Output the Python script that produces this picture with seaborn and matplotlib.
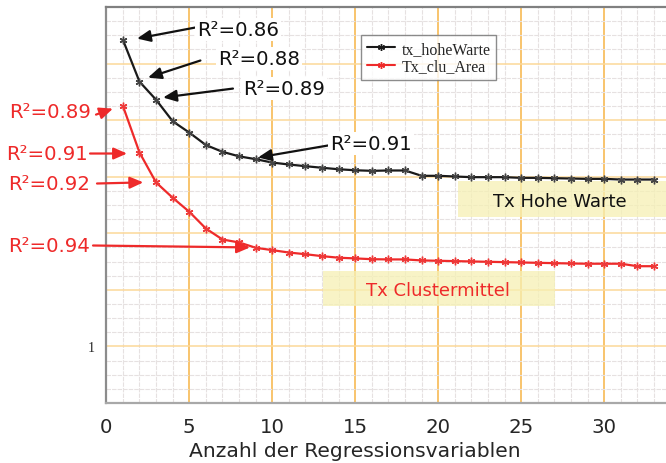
import numpy as np
import pandas as pd
import matplotlib
matplotlib.use("Agg")
import matplotlib.pyplot as plt
from matplotlib.patches import Rectangle
from matplotlib.ticker import MultipleLocator, FuncFormatter
from matplotlib.lines import Line2D
import seaborn as sns

# ---- data ----
n_vars = list(range(1, 34))
tx_hohe_warte = [3.71, 3.34, 3.18, 2.99, 2.89, 2.78, 2.72, 2.68, 2.655, 2.625,
                 2.608, 2.593, 2.579, 2.566, 2.557, 2.552, 2.555, 2.555, 2.508, 2.508,
                 2.502, 2.496, 2.496, 2.496, 2.490, 2.490, 2.487, 2.484, 2.481, 2.481,
                 2.475, 2.475, 2.475]
tx_clu_area = [3.126, 2.714, 2.449, 2.314, 2.190, 2.042, 1.945, 1.919, 1.872, 1.851,
               1.830, 1.815, 1.798, 1.784, 1.778, 1.771, 1.769, 1.769, 1.760, 1.757,
               1.754, 1.751, 1.748, 1.745, 1.742, 1.739, 1.736, 1.733, 1.731, 1.731,
               1.731, 1.709, 1.709]
series_names = ["tx_hoheWarte", "Tx_clu_Area"]
series_colors = ["#1a1a1a", "#ee2a2a"]

# annotation labels: (text, text_x, text_y, tail_x, tail_y, head_x, head_y)
black_notes = [
    ("R²=0.86", 5.46, 3.80, 5.34, 3.818, 1.85, 3.721),
    ("R²=0.88", 6.73, 3.544, 5.67, 3.527, 2.51, 3.376),
    ("R²=0.89", 8.23, 3.279, 7.63, 3.279, 3.42, 3.200),
    ("R²=0.91", 13.47, 2.793, 13.36, 2.776, 9.14, 2.670),
]
red_notes = [
    ("R²=0.89", -0.95, 3.075, -0.62, 3.049, 0.40, 3.102),
    ("R²=0.91", -1.10, 2.705, -0.98, 2.705, 1.25, 2.705),
    ("R²=0.92", -0.98, 2.44, -0.56, 2.44, 2.23, 2.45),
    ("R²=0.94", -0.98, 1.892, -0.80, 1.892, 8.66, 1.875),
]

df = pd.DataFrame({
    "x": n_vars * 2,
    "y": tx_hohe_warte + tx_clu_area,
    "series": [series_names[0]] * len(n_vars) + [series_names[1]] * len(n_vars),
})

sns.set_style("white")
plt.rcParams["font.family"] = ["DejaVu Sans"]

fig = plt.figure(figsize=(6.66, 4.64), dpi=100)
ax = fig.add_axes([106.3 / 666, 60 / 464, (666 - 106.3) / 666, 396 / 464])

sns.lineplot(data=df, x="x", y="y", hue="series", style="series",
             palette=dict(zip(series_names, series_colors)),
             markers=[(6, 2, 0), (6, 2, 0)], dashes=False,
             markersize=5.5, markeredgewidth=1.0, linewidth=1.6,
             ax=ax, legend=False, zorder=5)
marker_cols = ["#444444", "#ee3a3a"]
for line, c in zip(ax.lines, marker_cols):
    line.set_markeredgecolor(c)
    line.set_markerfacecolor(c)

ax.set_xlim(0, 33.72)
ax.set_ylim(0.5, 4.0)

# grid
ax.xaxis.set_major_locator(MultipleLocator(5))
ax.xaxis.set_minor_locator(MultipleLocator(1))
ax.yaxis.set_major_locator(MultipleLocator(0.5))
ax.yaxis.set_minor_locator(MultipleLocator(0.125))
ax.yaxis.set_major_formatter(FuncFormatter(lambda v, p: "1" if abs(v - 1) < 1e-9 else ""))
ax.xaxis.grid(True, which="minor", color="#e6e1e1", lw=0.8, ls=(0, (4, 1)))
ax.yaxis.grid(True, which="minor", color="#e6e1e1", lw=0.8, ls=(0, (4, 1)))
ax.xaxis.grid(True, which="major", color="#f7b445", lw=1.1)
ax.yaxis.grid(True, which="major", color="#fcd898", lw=1.1)
ax.set_axisbelow(True)

ax.tick_params(axis="x", which="both", length=0, pad=10, labelsize=14.2)
ax.tick_params(axis="y", which="both", length=0, pad=8)
for lab in ax.get_yticklabels():
    lab.set_family("Liberation Serif")
    lab.set_fontsize(10)

ax.set_xlabel("Anzahl der Regressionsvariablen", fontsize=14.6)
ax.xaxis.set_label_coords((355 - 106.3) / 559.7, -(452 - 404) / 396)
ax.xaxis.label.set_va("center")
ax.set_ylabel("")

for s in ["left", "bottom", "top"]:
    ax.spines[s].set_visible(True)
    ax.spines[s].set_linewidth(1.6)
ax.spines["left"].set_color("#8c8c8c")
ax.spines["bottom"].set_color("#a8a8a8")
ax.spines["top"].set_color("#808080")
ax.spines["right"].set_visible(False)

# yellow label boxes
ax.add_patch(Rectangle((21.19, 2.14), 14, 0.318, facecolor="#f6f0b4", alpha=0.75,
                       edgecolor="none", zorder=2))
ax.add_patch(Rectangle((13.05, 1.353), 13.98, 0.31, facecolor="#f6f0b4", alpha=0.75,
                       edgecolor="none", zorder=2))
ax.text(27.33, 2.281, "Tx Hohe Warte", color="#111111", fontsize=13,
        ha="center", va="center", zorder=3)
ax.text(20.01, 1.495, "Tx Clustermittel", color="#ee2a2a", fontsize=13,
        ha="center", va="center", zorder=3)

# annotations
arrow_kw = dict(arrowstyle="-|>,head_length=0.8,head_width=0.35", lw=1.6,
                shrinkA=0, shrinkB=0)
for txt, tx, ty, ax0, ay0, hx, hy in black_notes:
    ax.annotate("", xy=(hx, hy), xytext=(ax0, ay0),
                arrowprops=dict(color="#111111", **arrow_kw), zorder=6)
    ax.text(tx, ty, txt, color="#111111", fontsize=14.2, ha="left", va="center",
            zorder=6, bbox=dict(facecolor="white", edgecolor="none", pad=1.5))
for txt, tx, ty, ax0, ay0, hx, hy in red_notes:
    ax.annotate("", xy=(hx, hy), xytext=(ax0, ay0),
                arrowprops=dict(color="#ee2a2a", **arrow_kw), zorder=6,
                annotation_clip=False)
    ax.text(tx, ty, txt, color="#ee2a2a", fontsize=14.2, ha="right", va="center",
            zorder=6, clip_on=False)

# legend
handles = [Line2D([0, 1], [0, 0], color=c, lw=1.5, marker=(6, 2, 0), markersize=5,
                  markeredgecolor=c) for c in series_colors]
leg = ax.legend(handles, series_names, loc="upper left",
                bbox_to_anchor=(0.455, 0.929), borderaxespad=0,
                prop={"family": "Liberation Serif", "size": 11.5},
                frameon=True, fancybox=False, edgecolor="#707070",
                handlelength=1.8, handletextpad=0.4, labelspacing=0.12,
                borderpad=0.35)
leg.get_frame().set_linewidth(1.0)
leg.set_zorder(7)

fig.savefig("out.png", dpi=100)
